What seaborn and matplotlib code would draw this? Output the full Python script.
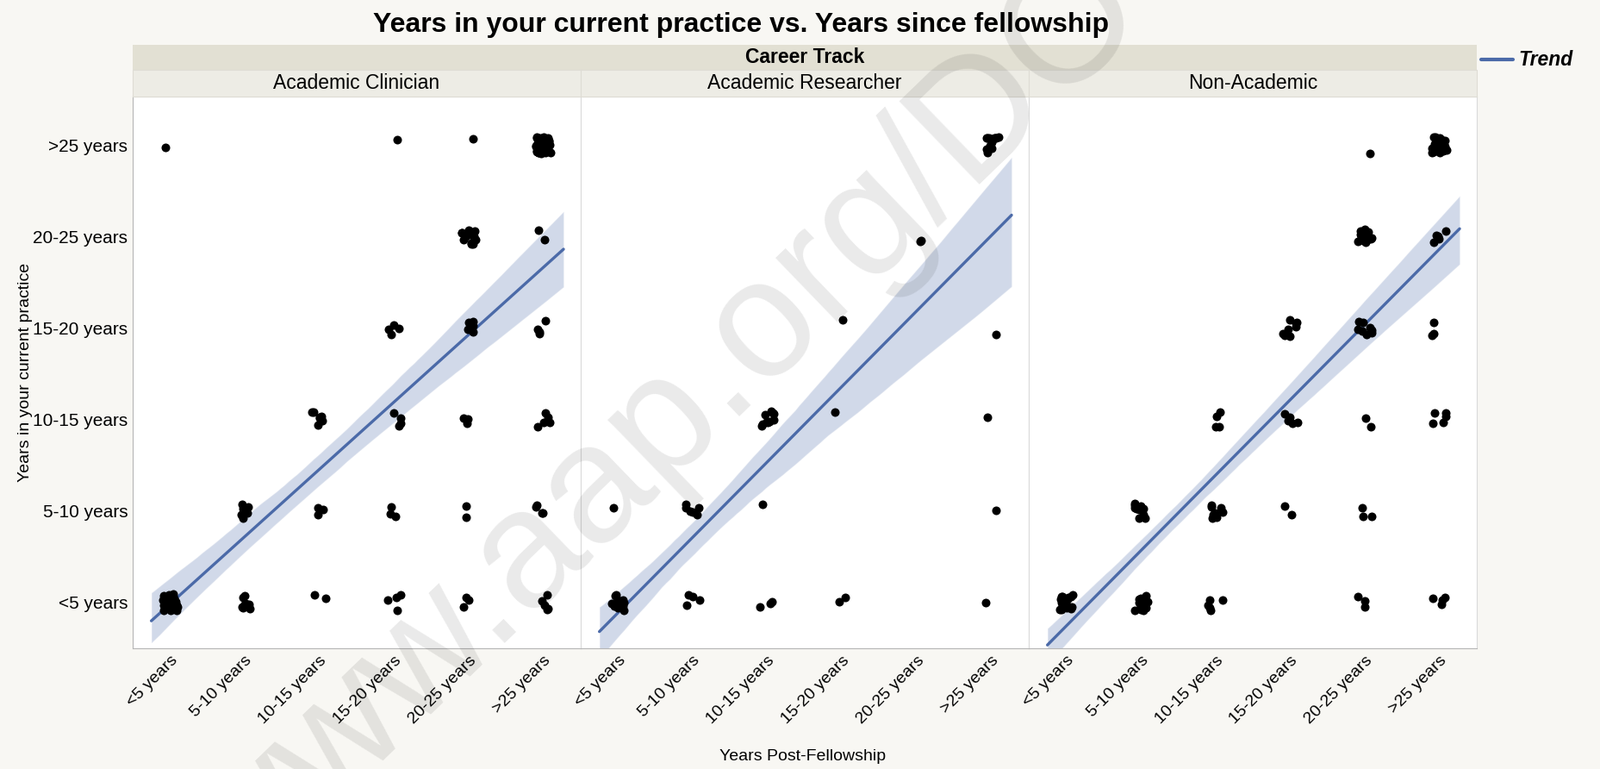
import numpy as np
import pandas as pd
import matplotlib
matplotlib.use("Agg")
import matplotlib.pyplot as plt
from matplotlib.patches import Rectangle
from matplotlib.lines import Line2D
import seaborn as sns

year_bins = ["<5 years", "5-10 years", "10-15 years", "15-20 years", "20-25 years", ">25 years"]
tracks = ["Academic Clinician", "Academic Researcher", "Non-Academic"]

# rows: years post-fellowship bin, columns: years in current practice bin
clinician_counts = [
    [30, 0, 0, 0, 0, 1],
    [8, 8, 0, 0, 0, 0],
    [2, 3, 7, 0, 0, 0],
    [4, 3, 4, 4, 0, 1],
    [3, 2, 3, 5, 14, 1],
    [5, 4, 5, 4, 2, 32],
]
researcher_counts = [
    [14, 1, 0, 0, 0, 0],
    [4, 6, 0, 0, 0, 0],
    [3, 1, 10, 0, 0, 0],
    [2, 0, 1, 1, 0, 0],
    [0, 0, 0, 0, 2, 0],
    [1, 1, 1, 1, 0, 12],
]
nonacademic_counts = [
    [22, 0, 0, 0, 0, 0],
    [12, 10, 0, 0, 0, 0],
    [5, 8, 4, 0, 0, 0],
    [0, 2, 5, 8, 0, 0],
    [3, 3, 2, 8, 15, 1],
    [4, 0, 5, 3, 5, 26],
]

# expand the count tables into one row per respondent
rows = []
for track, counts in zip(tracks, [clinician_counts, researcher_counts, nonacademic_counts]):
    for i, row in enumerate(counts):
        for j, n in enumerate(row):
            rows += [(track, i, j)] * n
df = pd.DataFrame(rows, columns=["track", "post", "practice"])

sns.set_style("white")
plt.rcParams["font.family"] = ["Liberation Sans", "DejaVu Sans"]
plt.rcParams["text.color"] = "black"
plt.rcParams["xtick.color"] = "black"
plt.rcParams["ytick.color"] = "black"

blue = "#4b6aa8"
np.random.seed(7)

fig, axes = plt.subplots(1, 3, figsize=(18.57, 8.92), dpi=100, sharey=True)
fig.patch.set_facecolor("#f8f7f3")
fig.subplots_adjust(left=0.0829, right=0.923, bottom=0.157, top=0.8744, wspace=0)

for ax, track in zip(axes, tracks):
    sub = df[df["track"] == track]
    ax.set_facecolor("white")
    ax.set_xlim(-0.25, 5.27)
    sns.regplot(data=sub, x="post", y="practice", ax=ax,
                x_jitter=0.1, y_jitter=0.09, truncate=False,
                scatter_kws=dict(color="black", s=52, linewidths=0, alpha=1, zorder=3),
                line_kws=dict(color=blue, lw=2.4, zorder=2))
    ax.collections[-1].set_alpha(0.25)
    ax.set_xlim(-0.5, 5.5)
    ax.set_ylim(-0.5, 5.53)
    ax.set_xlabel("")
    ax.set_ylabel("")
    ax.set_xticks(range(6))
    ax.set_xticklabels(year_bins, rotation=45, ha="right", rotation_mode="anchor", fontsize=14)
    ax.tick_params(length=0, pad=4)
    for s in ax.spines.values():
        s.set_color("#dadada")
    ax.spines["bottom"].set_color("#b5b5b5")

axes[0].set_yticks(range(6))
axes[0].set_yticklabels(year_bins, fontsize=15)
axes[0].spines["left"].set_color("#b5b5b5")

# header bands
left = axes[0].get_position().x0
right = axes[2].get_position().x1
fig.add_artist(Rectangle((left, 0.9092), right - left, 0.0325, transform=fig.transFigure,
                         facecolor="#e2e0d3", edgecolor="none"))
fig.text((left + right) / 2, 0.9255, "Career Track", ha="center", va="center",
         fontsize=16.5, fontweight="bold")
for ax, track in zip(axes, tracks):
    pos = ax.get_position()
    fig.add_artist(Rectangle((pos.x0, 0.8744), pos.width, 0.0348, transform=fig.transFigure,
                             facecolor="#edece5", edgecolor="#dedcd4", linewidth=0.8))
    fig.text((pos.x0 + pos.x1) / 2, 0.8918, track, ha="center", va="center", fontsize=16.5)

fig.text(0.463, 0.968, "Years in your current practice vs. Years since fellowship",
         ha="center", va="center", fontsize=23, fontweight="bold")
fig.text(0.016, 0.5157, "Years in your current practice", rotation=90,
         ha="center", va="center", fontsize=14)
fig.text(0.5016, 0.0168, "Years Post-Fellowship", ha="center", va="center", fontsize=14)

# legend
fig.add_artist(Line2D([0.9257, 0.9456], [0.9226, 0.9226], transform=fig.transFigure,
                      color=blue, lw=3))
fig.text(0.9488, 0.9226, "Trend", ha="left", va="center", fontsize=16.5,
         fontweight="bold", fontstyle="italic")

# watermark
fig.text(0.150, -0.170, "www.aap.org/DO", rotation=44, rotation_mode="anchor",
         ha="left", va="baseline", fontsize=140, color="black", alpha=0.085, zorder=10)

fig.savefig("out.png", dpi=100, facecolor=fig.get_facecolor())
